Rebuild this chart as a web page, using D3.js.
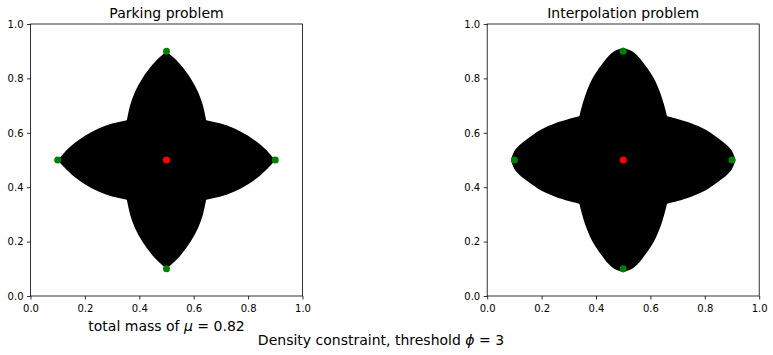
<!DOCTYPE html>
<html>
<head>
<meta charset="utf-8">
<script src="https://cdn.jsdelivr.net/npm/d3@7"></script>
<style>
  body { margin: 0; background: #fff; }
  text { font-family: "DejaVu Sans", sans-serif; fill: #000; }
</style>
</head>
<body>
<div id="chart"></div>
<script>
// panel titles and texts
var titles = ["Parking problem", "Interpolation problem"];
var tickValues = [0, 0.2, 0.4, 0.6, 0.8, 1.0];

// source point (red) and targets (green)
var center = [0.5, 0.5];
var targets = [[0.1, 0.5], [0.9, 0.5], [0.5, 0.1], [0.5, 0.9]];

// half-width of each lobe, by distance from the center
var parkingT = [0, 0.1, 0.15, 0.2, 0.25, 0.3, 0.35, 0.375, 0.4];
var parkingHalfWidth = [0.165, 0.156, 0.145, 0.134, 0.116, 0.089, 0.052, 0.028, 0];
var interpT = [0, 0.1, 0.165, 0.2, 0.25, 0.3, 0.33, 0.36, 0.38, 0.4, 0.413];
var interpHalfWidth = [0.18, 0.175, 0.16, 0.151, 0.135, 0.113, 0.094, 0.072, 0.056, 0.033, 0];

var width = 773, height = 355;
var size = 272;
var panels = [
  {x0: 30.5, title: titles[0], t: parkingT, w: parkingHalfWidth},
  {x0: 487.2, title: titles[1], t: interpT, w: interpHalfWidth}
];
var top0 = 24;

var svg = d3.select("#chart").append("svg")
  .attr("width", width).attr("height", height);

function fullProfile(t, w) {
  // mirror the half profile to go tip to tip
  var pts = [];
  for (var i = t.length - 1; i > 0; i--) pts.push([-t[i], w[i]]);
  for (var j = 0; j < t.length; j++) pts.push([t[j], w[j]]);
  return pts;
}

panels.forEach(function(p) {
  var x = d3.scaleLinear().domain([0, 1]).range([p.x0, p.x0 + size]);
  var y = d3.scaleLinear().domain([0, 1]).range([top0 + size, top0]);
  var g = svg.append("g");
  var prof = fullProfile(p.t, p.w);

  // horizontal lobe
  var hArea = d3.area()
    .curve(d3.curveCatmullRom)
    .x(function(d) { return x(center[0] + d[0]); })
    .y0(function(d) { return y(center[1] - d[1]); })
    .y1(function(d) { return y(center[1] + d[1]); });
  g.append("path").datum(prof).attr("d", hArea).attr("fill", "#000");

  // vertical lobe
  var vArea = d3.area()
    .curve(d3.curveCatmullRom)
    .y(function(d) { return y(center[1] + d[0]); })
    .x0(function(d) { return x(center[0] - d[1]); })
    .x1(function(d) { return x(center[0] + d[1]); });
  g.append("path").datum(prof).attr("d", vArea).attr("fill", "#000");

  g.selectAll(".tgt").data(targets).enter().append("circle")
    .attr("class", "tgt")
    .attr("cx", function(d) { return x(d[0]); })
    .attr("cy", function(d) { return y(d[1]); })
    .attr("r", 3.5)
    .attr("fill", "#008000");
  g.append("circle")
    .attr("cx", x(center[0])).attr("cy", y(center[1]))
    .attr("r", 3.5).attr("fill", "#ff0000");

  // axes
  var xa = g.append("g").attr("transform", "translate(0," + (top0 + size) + ")")
    .call(d3.axisBottom(x).tickValues(tickValues).tickFormat(d3.format(".1f"))
      .tickSize(3.5).tickPadding(3.5));
  xa.selectAll("text").attr("dy", "0.93em");
  var ya = g.append("g").attr("transform", "translate(" + p.x0 + ",0)")
    .call(d3.axisLeft(y).tickValues(tickValues).tickFormat(d3.format(".1f"))
      .tickSize(3.5).tickPadding(3.5));
  [xa, ya].forEach(function(a) {
    a.select(".domain").remove();
    a.selectAll("line").attr("stroke", "#000").attr("stroke-width", 0.8);
    a.selectAll("text").style("font-family", "DejaVu Sans").style("font-size", "10px").attr("fill", "#000");
  });

  g.append("rect")
    .attr("x", p.x0).attr("y", top0).attr("width", size).attr("height", size)
    .attr("fill", "none").attr("stroke", "#000").attr("stroke-width", 0.8);

  g.append("text")
    .attr("x", p.x0 + size / 2).attr("y", 17.5)
    .attr("text-anchor", "middle").style("font-size", "14px")
    .text(p.title);
});

// bottom labels
var lab = svg.append("text")
  .attr("x", 30.5 + size / 2).attr("y", 331)
  .attr("text-anchor", "middle").style("font-size", "14px");
lab.append("tspan").text("total mass of ");
lab.append("tspan").style("font-style", "italic").text("μ");
lab.append("tspan").text(" = 0.82");

var sup = svg.append("text")
  .attr("x", 381).attr("y", 344.5)
  .attr("text-anchor", "middle").style("font-size", "14px");
sup.append("tspan").text("Density constraint, threshold ");
sup.append("tspan").style("font-style", "italic").text("ϕ");
sup.append("tspan").text(" = 3");
</script>
</body>
</html>
